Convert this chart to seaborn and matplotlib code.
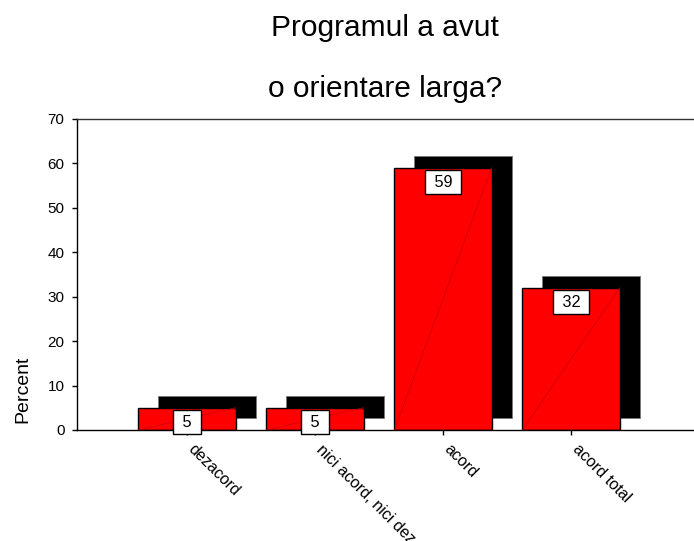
import matplotlib
matplotlib.use("Agg")
import matplotlib.pyplot as plt
from matplotlib.transforms import ScaledTranslation
import seaborn as sns
import pandas as pd

# Survey answers: "Programul a avut o orientare larga?"
categories = ["dezacord", "nici acord, nici dez", "acord", "acord total"]
percent = [5, 5, 59, 32]
y_ticks = [0, 10, 20, 30, 40, 50, 60, 70]

sns.set_style("white")
plt.rcParams["font.family"] = ["Liberation Sans", "DejaVu Sans"]
plt.rcParams["text.color"] = "black"
plt.rcParams["xtick.color"] = "black"
plt.rcParams["ytick.color"] = "black"

df = pd.DataFrame({"answer": categories, "percent": percent})

fig = plt.figure(figsize=(6.94, 5.41), dpi=100)
ax = fig.add_axes([0.111, 0.2052, 0.889, 0.575])

bar_w = 0.76
shadow_dx = 0.156
shadow_dy = 2.7

# drop shadows behind the bars
xs = list(range(len(categories)))
ax.bar([x + shadow_dx for x in xs], percent, width=bar_w, bottom=shadow_dy,
       color="black", edgecolor="#777777", linewidth=0.6, zorder=1)

sns.barplot(data=df, x="answer", y="percent", order=categories, color="#FF0000",
            width=bar_w, edgecolor="black", linewidth=1.0, saturation=1,
            ax=ax, zorder=2)

# faint diagonal seam across each red bar
for p in ax.patches:
    if p.get_facecolor()[:3] == (1.0, 0.0, 0.0):
        x0, y0 = p.get_x(), p.get_y()
        ax.plot([x0, x0 + p.get_width()], [y0, y0 + p.get_height()],
                color="#C80000", lw=0.5, zorder=3)

# value labels in white boxes just under each bar top
for x, v in zip(xs, percent):
    ax.annotate(f" {v} ", xy=(x, v), xytext=(0, -10.5), textcoords="offset points",
                ha="center", va="center", fontsize=11.7, color="black", zorder=5,
                bbox=dict(boxstyle="square,pad=0.28", fc="white", ec="black", lw=1.0))

ax.set_xlim(-0.859, 3.96)
ax.set_ylim(0, 70)
ax.set_yticks(y_ticks)
ax.set_yticklabels([str(t) for t in y_ticks], fontsize=11)
ax.set_xticks(xs)
ax.set_xticklabels(categories, rotation=-45, ha="left", va="top",
                   rotation_mode="anchor", fontsize=11.6)
ax.tick_params(axis="both", which="both", direction="out", length=3.6, width=1,
               color="black", bottom=True, left=True, top=False, right=False)
ax.tick_params(axis="y", pad=5.5)
ax.tick_params(axis="x", pad=5)
shift = ScaledTranslation(0.09, 0, fig.dpi_scale_trans)
for lab in ax.get_xticklabels():
    lab.set_transform(lab.get_transform() + shift)
ax.set_xlabel("")
ax.set_ylabel("")

for side in ["left", "bottom"]:
    ax.spines[side].set_color("black")
    ax.spines[side].set_linewidth(1.0)
ax.spines["top"].set_color("#333333")
ax.spines["top"].set_linewidth(1.0)
ax.spines["right"].set_visible(False)

fig.text(23 / 694, 1 - 389 / 541, "Percent", rotation=90, ha="center", va="center",
         fontsize=14)

fig.text(385 / 694, 1 - 36 / 541, "Programul a avut", ha="center", va="baseline",
         fontsize=21.5)
fig.text(385 / 694, 1 - 97 / 541, "o orientare larga?", ha="center", va="baseline",
         fontsize=21.5)

fig.savefig("out.png", dpi=100)
